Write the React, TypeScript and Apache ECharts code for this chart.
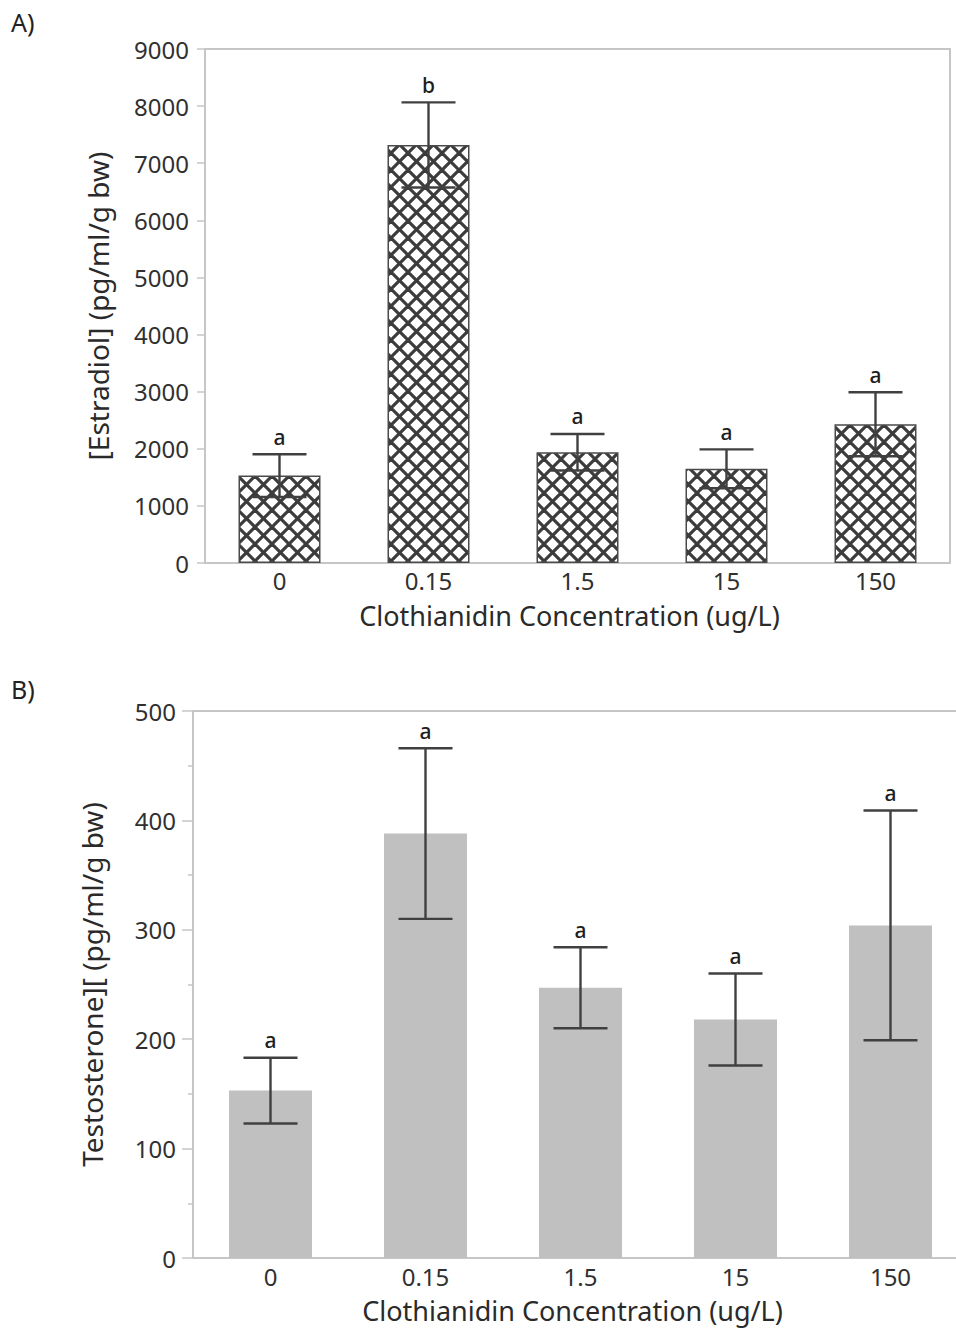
import React, { useEffect, useRef } from "react";
import * as echarts from "echarts";

const categories = ["0", "0.15", "1.5", "15", "150"];
const estradiolMean = [1530, 7320, 1940, 1650, 2430];
const estradiolErr = [375, 745, 320, 340, 560];
const estradiolLetters = ["a", "b", "a", "a", "a"];
const testoMean = [153, 388, 247, 218, 304];
const testoErr = [30, 78, 37, 42, 105];
const testoLetters = ["a", "a", "a", "a", "a"];

const FONT = "Noto Sans";
const AXIS_GRAY = "#c6c6c6";
const TEXT = "#2a2a2a";
const ERR = "#404040";

function makeHatch(): HTMLCanvasElement {
  const s = 17;
  const c = document.createElement("canvas");
  c.width = s;
  c.height = s;
  const ctx = c.getContext("2d")!;
  ctx.fillStyle = "#ffffff";
  ctx.fillRect(0, 0, s, s);
  ctx.strokeStyle = "#3c3c3c";
  ctx.lineWidth = 3.2;
  for (const k of [-s, 0, s]) {
    ctx.beginPath();
    ctx.moveTo(k, 0);
    ctx.lineTo(k + s, s);
    ctx.stroke();
    ctx.beginPath();
    ctx.moveTo(k, s);
    ctx.lineTo(k + s, 0);
    ctx.stroke();
  }
  return c;
}

function errRender(letters: string[]) {
  return (params: any, api: any) => {
    const i = api.value(0);
    const m = api.value(1);
    const e = api.value(2);
    const top = api.coord([i, m + e]);
    const bot = api.coord([i, m - e]);
    const hc = 27;
    const style = { stroke: ERR, lineWidth: 2.4 };
    return {
      type: "group",
      children: [
        { type: "line", shape: { x1: top[0], y1: top[1], x2: bot[0], y2: bot[1] }, style },
        { type: "line", shape: { x1: top[0] - hc, y1: top[1], x2: top[0] + hc, y2: top[1] }, style },
        { type: "line", shape: { x1: bot[0] - hc, y1: bot[1], x2: bot[0] + hc, y2: bot[1] }, style },
        {
          type: "text",
          x: top[0],
          y: top[1] - 7,
          style: {
            text: letters[params.dataIndex],
            fill: "#1e1e1e",
            font: `500 21px "${FONT}"`,
            align: "center",
            verticalAlign: "bottom",
          },
        },
      ],
    };
  };
}

export default function App() {
  const ref = useRef<HTMLDivElement>(null);
  useEffect(() => {
    if (!ref.current) return;
    const chart = echarts.init(ref.current, null, { renderer: "svg" });
    const hatch = makeHatch();
    const axisLabel = { color: "#303030", fontSize: 24, fontFamily: FONT };
    const nameStyle = { color: TEXT, fontSize: 27, fontFamily: FONT };
    chart.setOption({
      animation: false,
      backgroundColor: "#ffffff",
      textStyle: { fontFamily: FONT },
      graphic: [
        { type: "text", left: 11, top: 9, style: { text: "A)", font: `25px "${FONT}"`, fill: "#222" } },
        { type: "text", left: 11, top: 676, style: { text: "B)", font: `25px "${FONT}"`, fill: "#222" } },
      ],
      grid: [
        { left: 205, top: 49, width: 745, height: 514, show: true, borderColor: AXIS_GRAY, borderWidth: 2, outerBoundsMode: "none", containLabel: false },
        { left: 193, top: 711, width: 775, height: 547, show: true, borderColor: AXIS_GRAY, borderWidth: 2, outerBoundsMode: "none", containLabel: false },
      ],
      xAxis: [
        {
          type: "category",
          gridIndex: 0,
          data: categories,
          axisLine: { lineStyle: { color: AXIS_GRAY, width: 2 } },
          axisTick: { show: false },
          axisLabel: { ...axisLabel, margin: 5 },
          name: "Clothianidin Concentration (ug/L)",
          nameLocation: "middle",
          nameGap: 39,
          nameTextStyle: { ...nameStyle, padding: [0, 16, 0, 0] },
        },
        {
          type: "category",
          gridIndex: 1,
          data: categories,
          axisLine: { lineStyle: { color: AXIS_GRAY, width: 2 } },
          axisTick: { show: false },
          axisLabel: { ...axisLabel, margin: 6 },
          name: "Clothianidin Concentration (ug/L)",
          nameLocation: "middle",
          nameGap: 39,
          nameTextStyle: { ...nameStyle, padding: [0, 16, 0, 0] },
        },
      ],
      yAxis: [
        {
          type: "value",
          gridIndex: 0,
          min: 0,
          max: 9000,
          interval: 1000,
          axisLine: { show: true, lineStyle: { color: AXIS_GRAY, width: 2 } },
          axisTick: { show: true, length: 8, lineStyle: { color: AXIS_GRAY, width: 1.5 } },
          splitLine: { show: false },
          axisLabel: { ...axisLabel, margin: 16, formatter: (v: number) => String(v) },
          name: "[Estradiol] (pg/ml/g bw)",
          nameLocation: "middle",
          nameGap: 93,
          nameTextStyle: { ...nameStyle, fontSize: 28 },
        },
        {
          type: "value",
          gridIndex: 1,
          min: 0,
          max: 500,
          interval: 100,
          axisLine: { show: true, lineStyle: { color: AXIS_GRAY, width: 2 } },
          axisTick: { show: true, length: 11, lineStyle: { color: AXIS_GRAY, width: 1.5 } },
          minorTick: { show: true, splitNumber: 2, length: 5, lineStyle: { color: AXIS_GRAY, width: 1.5 } },
          splitLine: { show: false },
          axisLabel: { ...axisLabel, margin: 17, formatter: (v: number) => String(v) },
          name: "Testosterone][ (pg/ml/g bw)",
          nameLocation: "middle",
          nameGap: 87,
          nameTextStyle: { ...nameStyle, fontSize: 28 },
        },
      ],
      series: [
        {
          type: "bar",
          xAxisIndex: 0,
          yAxisIndex: 0,
          barWidth: 82,
          data: estradiolMean,
          itemStyle: {
            color: { image: hatch, repeat: "repeat" },
            borderColor: "#4a4a4a",
            borderWidth: 1.5,
          },
        },
        {
          type: "custom",
          xAxisIndex: 0,
          yAxisIndex: 0,
          data: estradiolMean.map((m, i) => [i, m, estradiolErr[i]]),
          renderItem: errRender(estradiolLetters),
          z: 5,
        },
        {
          type: "bar",
          xAxisIndex: 1,
          yAxisIndex: 1,
          barWidth: 83,
          data: testoMean,
          itemStyle: { color: "#c0c0c0" },
        },
        {
          type: "custom",
          xAxisIndex: 1,
          yAxisIndex: 1,
          data: testoMean.map((m, i) => [i, m, testoErr[i]]),
          renderItem: errRender(testoLetters),
          z: 5,
        },
      ],
    });
    return () => chart.dispose();
  }, []);
  return (
    <div
      ref={ref}
      style={{ position: "absolute", left: 0, top: 0, width: 956, height: 1333, overflow: "hidden" }}
    />
  );
}
